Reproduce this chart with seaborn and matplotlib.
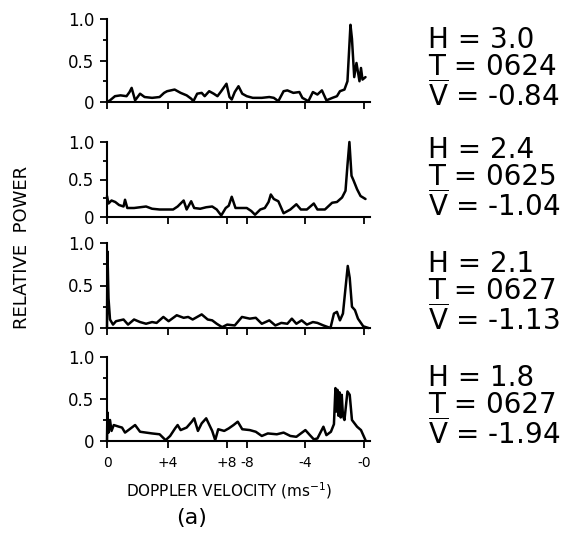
import numpy as np
import pandas as pd
import seaborn as sns
import matplotlib.pyplot as plt
from matplotlib.ticker import FixedLocator

# Doppler spectra, folded velocity axis (0..+8 | -8..-0), positions in m/s units along the axis
x1 = [0.0, 0.2, 0.53, 0.9, 1.3, 1.5, 1.64, 1.87, 2.2, 2.5, 3.0, 3.5, 3.8, 4.0, 4.5, 4.9, 5.3, 5.6,
      5.75, 6.0, 6.3, 6.5, 6.8, 7.1, 7.35, 7.6, 7.95, 8.15, 8.3, 8.5, 8.75, 9.0, 9.3, 9.7, 10.3,
      10.8, 11.1, 11.4, 11.75, 12.0, 12.4, 12.8, 13.0, 13.4, 13.7, 14.0, 14.3, 14.6, 15.0, 15.3,
      15.5, 15.8, 16.0, 16.2, 16.3, 16.45, 16.6, 16.8, 16.9, 17.0, 17.2]
p1 = [0.0, 0.02, 0.07, 0.08, 0.07, 0.12, 0.17, 0.02, 0.10, 0.06, 0.05, 0.06, 0.11, 0.13, 0.15,
      0.11, 0.08, 0.04, 0.01, 0.10, 0.11, 0.07, 0.13, 0.10, 0.07, 0.13, 0.22, 0.06, 0.03, 0.12,
      0.19, 0.10, 0.07, 0.05, 0.05, 0.06, 0.05, 0.01, 0.13, 0.14, 0.11, 0.12, 0.05, 0.01, 0.12,
      0.09, 0.14, 0.02, 0.05, 0.07, 0.13, 0.15, 0.25, 0.93, 0.76, 0.30, 0.47, 0.25, 0.41, 0.27,
      0.30]

x2 = [0.0, 0.1, 0.3, 0.55, 0.8, 1.1, 1.2, 1.35, 1.8, 2.2, 2.6, 3.0, 3.5, 4.0, 4.4, 4.7, 5.1, 5.3,
      5.6, 5.8, 6.2, 6.6, 7.0, 7.3, 7.6, 7.9, 8.1, 8.3, 8.55, 8.9, 9.3, 9.6, 9.85, 10.2, 10.5,
      10.75, 10.9, 11.1, 11.4, 11.75, 12.2, 12.6, 12.9, 13.3, 13.76, 14.0, 14.5, 14.98, 15.3,
      15.64, 15.87, 16.0, 16.13, 16.27, 16.4, 16.64, 16.87, 17.2]
p2 = [0.28, 0.18, 0.22, 0.20, 0.16, 0.14, 0.23, 0.12, 0.12, 0.13, 0.14, 0.11, 0.10, 0.10, 0.10,
      0.14, 0.22, 0.10, 0.21, 0.12, 0.11, 0.13, 0.14, 0.10, 0.02, 0.12, 0.15, 0.27, 0.12, 0.12,
      0.12, 0.08, 0.03, 0.10, 0.12, 0.20, 0.30, 0.24, 0.21, 0.05, 0.10, 0.17, 0.10, 0.10, 0.18,
      0.10, 0.10, 0.19, 0.20, 0.26, 0.35, 0.69, 1.0, 0.55, 0.49, 0.37, 0.28, 0.24]

x3 = [0.0, 0.03, 0.1, 0.2, 0.4, 0.6, 1.1, 1.4, 1.8, 2.2, 2.6, 3.0, 3.3, 3.75, 4.1, 4.64, 5.1, 5.4,
      5.7, 6.3, 6.7, 7.0, 7.3, 7.66, 8.0, 8.5, 8.98, 9.5, 9.9, 10.3, 10.8, 11.2, 11.6, 12.0, 12.3,
      12.6, 12.95, 13.3, 13.7, 14.0, 14.4, 14.87, 15.1, 15.3, 15.5, 15.7, 15.87, 16.02, 16.15,
      16.3, 16.5, 16.7, 17.05, 17.4]
p3 = [0.0, 0.9, 0.35, 0.10, 0.04, 0.08, 0.10, 0.04, 0.10, 0.07, 0.05, 0.07, 0.06, 0.13, 0.08,
      0.15, 0.12, 0.13, 0.10, 0.16, 0.10, 0.09, 0.05, 0.01, 0.04, 0.03, 0.13, 0.11, 0.12, 0.05,
      0.09, 0.03, 0.06, 0.05, 0.11, 0.05, 0.09, 0.04, 0.07, 0.06, 0.03, 0.0, 0.17, 0.19, 0.09,
      0.17, 0.47, 0.73, 0.59, 0.25, 0.21, 0.11, 0.02, 0.0]

x4 = [0.0, 0.03, 0.1, 0.2, 0.3, 0.45, 0.8, 1.0, 1.2, 1.5, 1.87, 2.2, 2.6, 3.0, 3.5, 3.9, 4.2, 4.53,
      4.7, 4.9, 5.3, 5.64, 5.8, 6.05, 6.3, 6.6, 7.0, 7.2, 7.4, 7.8, 8.1, 8.42, 8.7, 9.0, 9.5, 9.9,
      10.3, 10.7, 11.3, 11.75, 12.2, 12.6, 13.2, 13.5, 13.76, 14.0, 14.4, 14.6, 14.9, 15.1, 15.2,
      15.27, 15.33, 15.4, 15.47, 15.55, 15.62, 15.7, 15.8, 16.0, 16.15, 16.3, 16.64, 16.9, 17.2]
p4 = [0.0, 0.34, 0.10, 0.25, 0.12, 0.19, 0.17, 0.16, 0.10, 0.14, 0.19, 0.11, 0.10, 0.09, 0.08,
      0.01, 0.06, 0.15, 0.19, 0.13, 0.16, 0.23, 0.27, 0.12, 0.21, 0.27, 0.12, 0.01, 0.14, 0.12,
      0.15, 0.19, 0.23, 0.14, 0.13, 0.11, 0.06, 0.09, 0.08, 0.10, 0.06, 0.05, 0.13, 0.07, 0.02,
      0.03, 0.17, 0.07, 0.11, 0.20, 0.63, 0.35, 0.61, 0.30, 0.58, 0.28, 0.55, 0.30, 0.25, 0.59,
      0.55, 0.25, 0.17, 0.13, 0.01]

heights = ['3.0', '2.4', '2.1', '1.8']
times = ['0624', '0625', '0627', '0627']
mean_v = ['-0.84', '-1.04', '-1.13', '-1.94']

tick_pos = [0, 4.07, 8.0, 9.33, 13.2, 17.13]
tick_lab = ['0', '+4', '+8', '-8', '-4', '-0']

sns.set_style('ticks')
plt.rcParams['font.family'] = ['DejaVu Sans']
plt.rcParams['text.color'] = 'black'

W, H = 573, 540
fig = plt.figure(figsize=(W / 100, H / 100), dpi=100)

# (top, bottom) of each panel in pixels
panels = [(19, 102), (142, 217), (243, 328), (357, 441)]
series = [(x1, p1), (x2, p2), (x3, p3), (x4, p4)]
text_mid = [69, 179, 293, 407]

for i, ((top, bot), (xs, ps)) in enumerate(zip(panels, series)):
    ax = fig.add_axes([107 / W, 1 - bot / H, 263 / W, (bot - top) / H])
    df = pd.DataFrame({'v': xs, 'p': ps})
    sns.lineplot(data=df, x='v', y='p', ax=ax, color='black', lw=1.8,
                 estimator=None, sort=False)
    for l in ax.lines:
        l.set_clip_on(False)
    ax.set_xlim(0, 17.5)
    ax.set_ylim(0, 1.0)
    sns.despine(ax=ax)
    for s in ['left', 'bottom']:
        ax.spines[s].set_linewidth(1.5)
        ax.spines[s].set_color('black')
    ax.set_yticks([0, 0.5, 1.0])
    ax.set_yticklabels(['0', '0.5', '1.0'], fontsize=12)
    ax.yaxis.set_minor_locator(FixedLocator([0.25, 0.75]))
    ax.tick_params(axis='y', which='major', length=5, width=1.3, pad=4,
                   colors='black')
    ax.tick_params(axis='y', which='minor', length=3, width=1.3, colors='black')
    ax.set_xticks(tick_pos)
    ax.tick_params(axis='x', length=5, width=1.3, pad=6, colors='black')
    if i == 3:
        ax.set_xticklabels(tick_lab, fontsize=10)
    else:
        ax.set_xticklabels([])
    ax.set_xlabel('')
    ax.set_ylabel('')

    # height, time and mean velocity as one block of text
    label = ('H = ' + heights[i] + '\n' + 'T = ' + times[i] + '\n'
             + r'$\overline{\mathrm{V}}$ = ' + mean_v[i])
    fig.text(428 / W, 1 - text_mid[i] / H, label, fontsize=20, va='center',
             ha='left', linespacing=0.95)

fig.text(22 / W, 1 - 247 / H, 'RELATIVE  POWER', rotation=90, fontsize=13,
         ha='center', va='center')
fig.text(229 / W, 1 - 491 / H, r'DOPPLER VELOCITY (ms$^{-1}$)', fontsize=11,
         ha='center', va='center')
fig.text(192 / W, 1 - 518 / H, '(a)', fontsize=16, ha='center', va='center')

fig.savefig('out.png', dpi=100)
